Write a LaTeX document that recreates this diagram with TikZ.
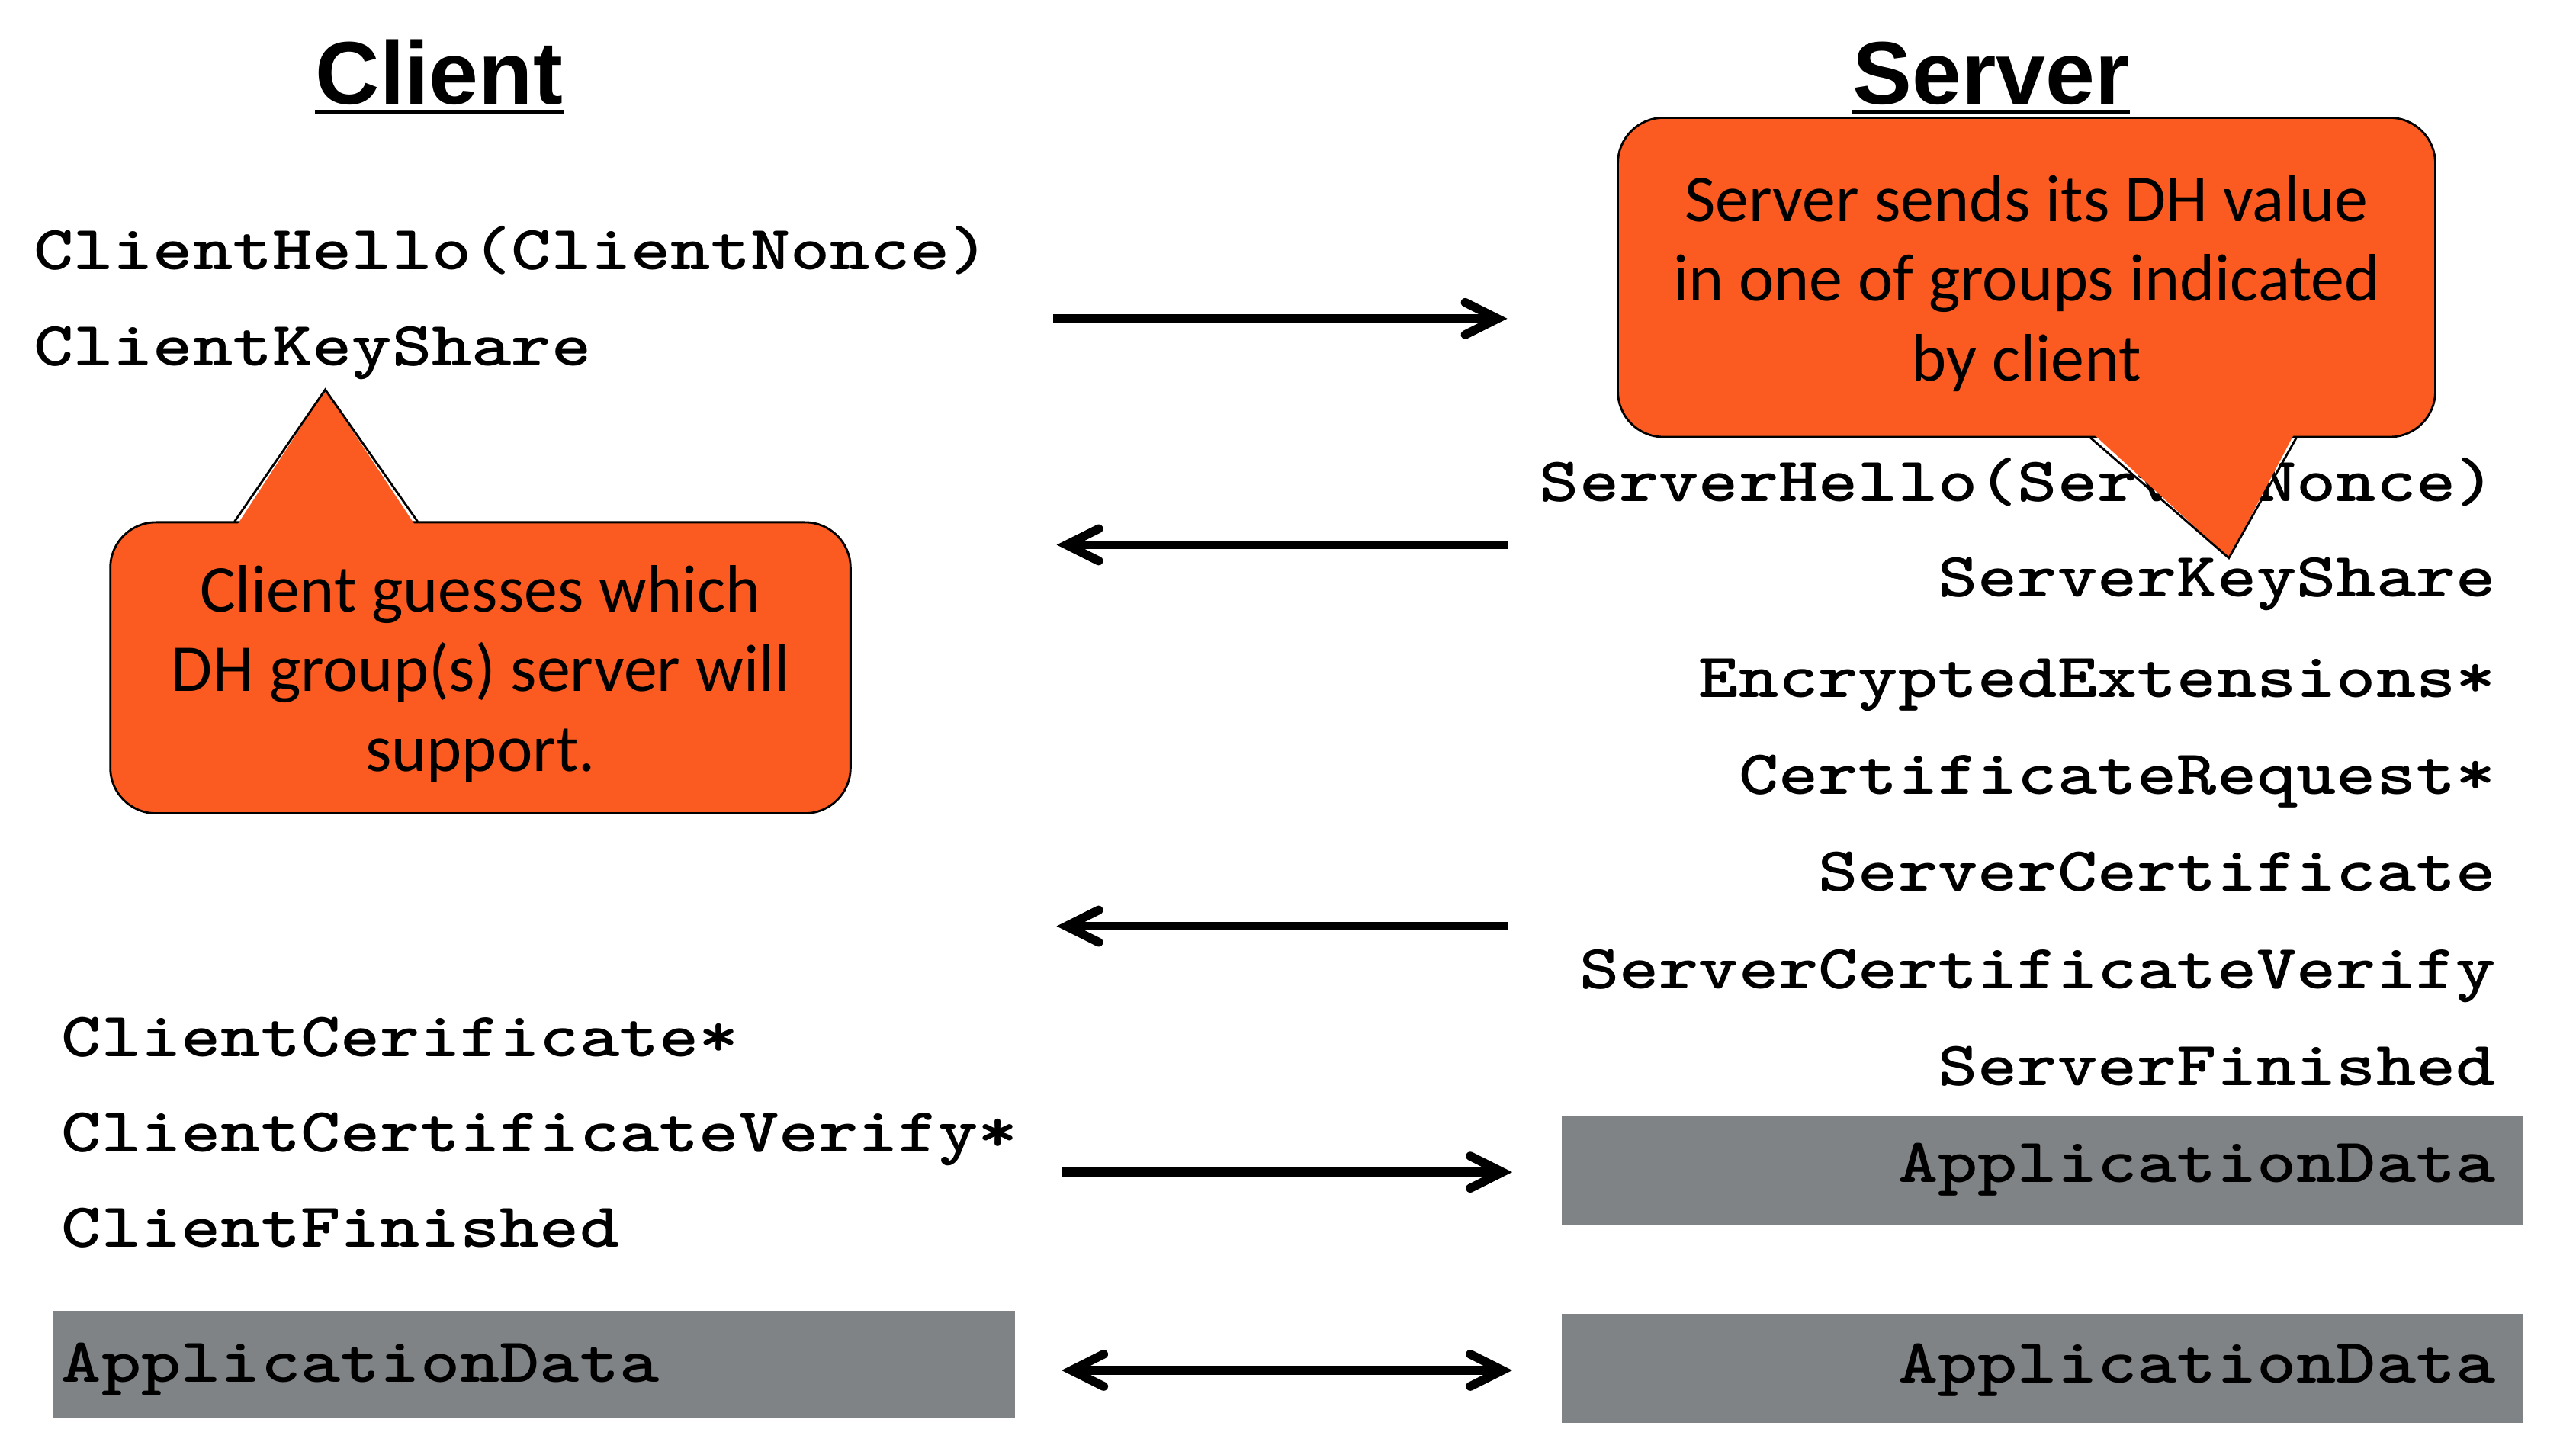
\documentclass[tikz,border=0pt]{standalone}
\usepackage{fontspec}
\setmainfont{Carlito}
\newfontfamily\msgfont{lmmonolt10-bold}[Extension=.otf, FakeStretch=1.205]
\newfontfamily\headfont{Liberation Sans}
\usetikzlibrary{arrows.meta, positioning}
\definecolor{noteorange}{RGB}{251,91,32}
\definecolor{appgray}{RGB}{128,131,133}
\tikzset{
	heading/.style={
		font=\headfont\bfseries\fontsize{33.2}{40}\selectfont,
		inner sep=0pt,
		anchor=base
	},
	clientmsg/.style={
		font=\msgfont\fontsize{23.5}{30}\selectfont,
		inner sep=0pt,
		anchor=base west
	},
	servermsg/.style={
		font=\msgfont\fontsize{23.5}{30}\selectfont,
		inner sep=0pt,
		anchor=base east
	},
	note/.style={
		rectangle,
		rounded corners=17pt,
		draw=black,
		line width=0.8pt,
		fill=noteorange,
		font=\fontsize{25}{29.8}\selectfont,
		align=center,
		inner sep=0pt
	},
	appbox/.style={fill=appgray},
	barb/.tip={Straight Barb[length=12pt, width=12pt, line cap=round, line join=miter]},
	msg/.style={line width=3.3pt, -barb},
	msgboth/.style={line width=3.3pt, barb-barb}
}

\begin{document}
\begin{tikzpicture}[x=0.2165mm, y=-0.2165mm]
	\useasboundingbox (0,0) rectangle (1560.3,873);

	% titles
	\node (client) [heading] at (266,63) {Client};
	\node (server) [heading] at (1206,63) {Server};
	\draw [line width=1.4pt] ([yshift=-2.9pt]client.base west) -- ([yshift=-2.9pt]client.base east);
	\draw [line width=1.4pt] ([yshift=-2.9pt]server.base west) -- ([yshift=-2.9pt]server.base east);

	% application data boxes
	\fill [appbox] (32,794) rectangle (615,859);
	\fill [appbox] (946,676) rectangle (1528,742);
	\fill [appbox] (946,796) rectangle (1528,862);

	% client side
	\node (chello) [clientmsg] at (20,163.5) {ClientHello(ClientNonce)};
	\node (ckey) [clientmsg] at ([yshift=-35.6pt]chello.base west) {ClientKeyShare};
	\node (ccert) [clientmsg] at (37,640) {ClientCerificate*};
	\node (ccv) [clientmsg] at ([yshift=-35.6pt]ccert.base west) {ClientCertificateVerify*};
	\node (cfin) [clientmsg] at ([yshift=-35.6pt]ccv.base west) {ClientFinished};
	\node (cdata) [clientmsg] at ([yshift=-50.3pt]cfin.base west) {ApplicationData};

	% server side
	\node (shello) [servermsg] at (1512,303.5) {ServerHello(ServerNonce)};
	\node (skey) [servermsg] at ([yshift=-35.8pt]shello.base east) {ServerKeyShare};
	\node (sext) [servermsg] at ([yshift=-37.4pt]skey.base east) {EncryptedExtensions*};
	\node (sreq) [servermsg] at ([yshift=-36.2pt]sext.base east) {CertificateRequest*};
	\node (scert) [servermsg] at ([yshift=-36.2pt]sreq.base east) {ServerCertificate};
	\node (scv) [servermsg] at ([yshift=-36.2pt]scert.base east) {ServerCertificateVerify};
	\node (sfin) [servermsg] at ([yshift=-36.2pt]scv.base east) {ServerFinished};
	\node (sdata) [servermsg] at ([yshift=-36.2pt]sfin.base east) {ApplicationData};
	\node (sdata2) [servermsg] at ([yshift=-74.9pt]sdata.base east) {ApplicationData};

	% messages
	\coordinate (m1c) at (638,193);
	\coordinate (m1s) at (913,193);
	\coordinate (m2c) at (640,330);
	\coordinate (m2s) at (913,330);
	\coordinate (m3c) at (640,561);
	\coordinate (m3s) at (913,561);
	\coordinate (m4c) at (643,710);
	\coordinate (m4s) at (916,710);
	\coordinate (m5c) at (643,830);
	\coordinate (m5s) at (916,830);
	\draw [msg] (m1c) -- (m1s);
	\draw [msg] (m2s) -- (m2c);
	\draw [msg] (m3s) -- (m3c);
	\draw [msg] (m4c) -- (m4s);
	\draw [msgboth] (m5c) -- (m5s);

	% callouts
	\node (cnote) [note, minimum width=276.2pt, minimum height=108.6pt] at (291,404.5)
		{\rule{0pt}{21.8pt}Client guesses which\\DH group(s) server will\\support.};
	\fill [noteorange] (143,319) -- (197,236) -- (252,319) -- cycle;
	\draw [line width=0.8pt] (142,316) -- (197,236) -- (253,316);

	\node (snote) [note, minimum width=305pt, minimum height=119.1pt] at (1227.5,168)
		{\rule{0pt}{21.8pt}Server sends its DH value\\in one of groups indicated\\by client};
	\fill [noteorange] (1267,262) -- (1350,338) -- (1390,262) -- cycle;
	\draw [line width=0.8pt] (1266,265) -- (1350,338) -- (1391,265);
\end{tikzpicture}
\end{document}
